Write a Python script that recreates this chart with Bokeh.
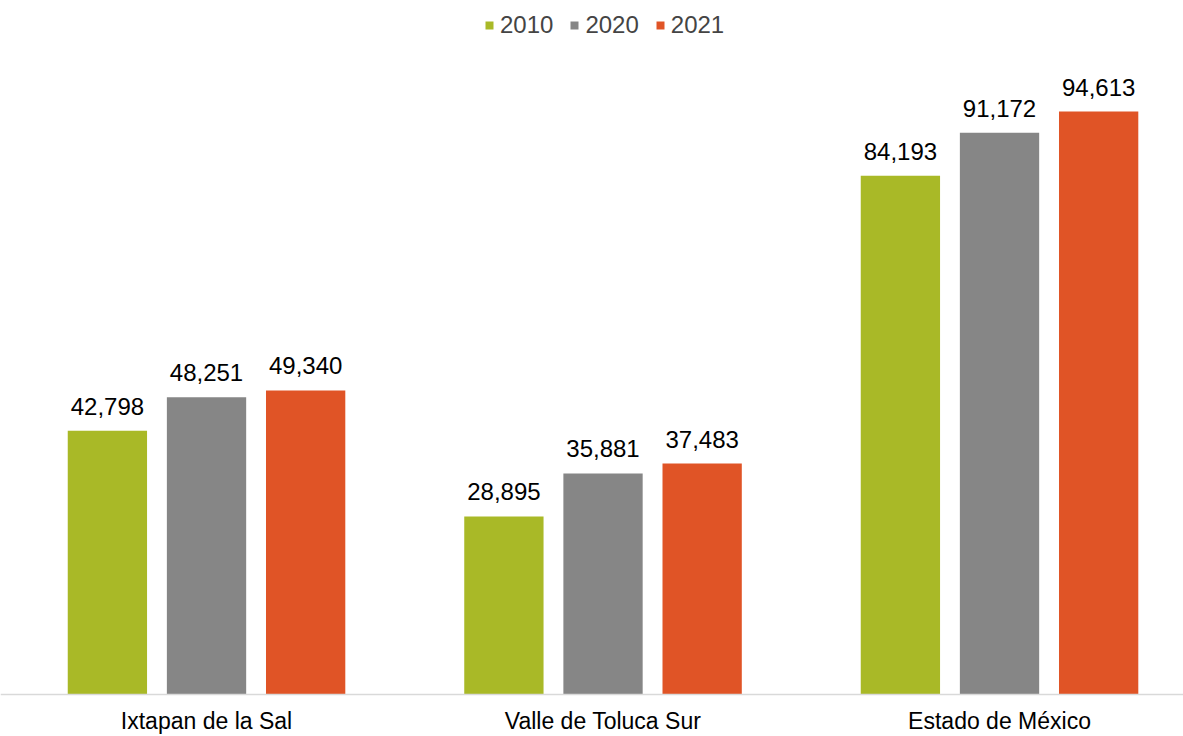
from bokeh.plotting import figure
from bokeh.models import ColumnDataSource, Legend, LegendItem, Range1d, LabelSet, Span
from bokeh.embed import file_html
from bokeh.resources import INLINE
from bokeh.core.properties import value

categories = ["Ixtapan de la Sal", "Valle de Toluca Sur", "Estado de México"]
years = ["2010", "2020", "2021"]
v2010 = [42798, 28895, 84193]
v2020 = [48251, 35881, 91172]
v2021 = [49340, 37483, 94613]
colors = ["#A9B927", "#868686", "#E05426"]

FONT = "Liberation Sans"

p = figure(width=1183, height=736, output_backend="svg", toolbar_location=None,
           x_range=Range1d(-0.5196, 2.464), y_range=Range1d(-6816, 112627),
           min_border_left=0, min_border_right=0, min_border_top=0, min_border_bottom=0)
p.outline_line_color = None
p.grid.visible = False
p.xaxis.visible = False
p.yaxis.visible = False
p.background_fill_color = "white"
p.border_fill_color = "white"

xs = list(range(len(categories)))
offsets = [-0.25, 0.0, 0.25]
series = [v2010, v2020, v2021]
renderers = []
for yr, vals, off, col in zip(years, series, offsets, colors):
    src = ColumnDataSource(dict(x=[x + off for x in xs], top=vals,
                                lab=[f"{v:,}" for v in vals]))
    r = p.vbar(x="x", top="top", bottom=0, width=0.2, source=src, fill_color=col, line_color=None)
    renderers.append((yr, r))
    labels = LabelSet(x="x", y="top", text="lab", source=src, text_align="center",
                      text_baseline="alphabetic", y_offset=16,
                      text_font=value(FONT), text_font_size="24px", text_color="#000000")
    p.add_layout(labels)

# category axis baseline
p.add_layout(Span(location=0, dimension="width", line_color="#D9D9D9", line_width=1.5))

cat_src = ColumnDataSource(dict(x=xs, y=[0] * len(xs), lab=categories))
p.add_layout(LabelSet(x="x", y="y", text="lab", source=cat_src, text_align="center",
                      text_baseline="top", y_offset=-13,
                      text_font=value(FONT), text_font_size="23px", text_color="#000000"))

legend = Legend(items=[LegendItem(label=yr, renderers=[r]) for yr, r in renderers],
                orientation="horizontal", location=(484, 697),
                label_text_font=FONT, label_text_font_size="24px",
                glyph_width=10, glyph_height=10, spacing=16, label_standoff=6,
                border_line_color=None, background_fill_alpha=0,
                padding=0, margin=0)
p.add_layout(legend, "center")

open("out.html", "w").write(file_html(p, INLINE))
